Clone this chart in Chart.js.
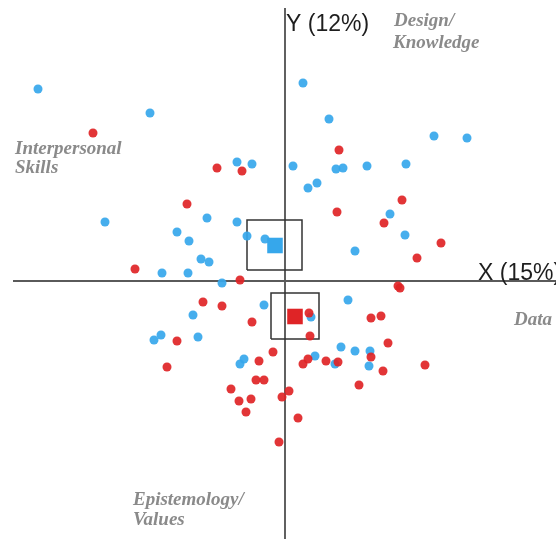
<!DOCTYPE html>
<html>
<head>
<meta charset="utf-8">
<script src="https://cdn.jsdelivr.net/npm/chart.js@4/dist/chart.umd.min.js"></script>
<style>
  html, body { margin: 0; padding: 0; background: #fff; }
  #c { display: block; }
</style>
</head>
<body>
<canvas id="c" width="556" height="539"></canvas>
<script>
// ---- Data ----
const blueX = [-24.7,-13.5,-4.8,-3.3,-18.0,-7.8,-4.8,-10.8,-9.6,-3.8,-2.0,-8.4,-7.6,-12.3,-9.7,-6.3,-2.1,-9.2,-13.1,-12.4,-8.7,-4.5,-4.1,6.3,2.6,5.6,7.0,8.5,8.4,3.0,5.0,1.8,4.4,14.9,18.2,0.8,5.1,5.8,8.2,12.1,2.3,3.2,10.5,12.0,7.0];
const blueY = [19.2,16.8,11.9,11.7,5.9,6.3,5.9,4.9,4.0,4.5,4.2,2.2,1.9,0.8,0.8,-0.2,-2.4,-3.4,-5.9,-5.4,-5.6,-8.3,-7.8,-1.9,-3.6,-6.6,-7.0,-7.0,-8.5,-7.5,-8.3,19.8,16.2,14.5,14.3,11.5,11.2,11.3,11.5,11.7,9.3,9.8,6.7,4.6,3.0];

const redX = [-19.2,-6.8,-4.3,-9.8,-15.0,-4.5,-8.2,-6.3,-3.3,-10.8,-11.8,-1.2,-2.6,-2.9,-2.1,-5.4,-4.6,-3.4,-3.9,-0.3,0.4,1.3,-0.6,11.3,11.5,2.4,2.5,8.6,9.6,10.3,8.6,9.8,14.0,1.8,2.3,4.1,5.3,7.4,5.4,11.7,5.2,9.9,15.6,13.2];
const redY = [14.8,11.3,11.0,7.7,1.2,0.1,-2.1,-2.5,-4.1,-6.0,-8.6,-7.1,-8.0,-9.9,-9.9,-10.8,-12.0,-11.8,-13.1,-11.6,-11.0,-13.7,-16.1,-0.5,-0.7,-3.2,-5.5,-3.7,-3.5,-6.2,-7.6,-9.0,-8.4,-8.3,-7.8,-8.0,-8.1,-10.4,13.1,8.1,6.9,5.8,3.8,2.3];

const blueMean = [-1.0, 3.55];
const redMean = [1.0, -3.55];
// boxes around the means: [xMin, xMax, yMin, yMax]
const blueBox = [-3.8, 1.7, 1.1, 6.1];
const redBox = [-1.4, 3.4, -5.8, -1.2];

const axisLabels = ['X (15%)', 'Y (12%)'];
const quadrantLabels = [['Design/', 'Knowledge'], ['Interpersonal', 'Skills'], ['Epistemology/', 'Values'], ['Data']];

// ---- Helpers ----
const pts = (xs, ys) => xs.map((x, i) => ({ x: x, y: ys[i] }));
const boxPts = b => [
  { x: b[0], y: b[2] }, { x: b[1], y: b[2] }, { x: b[1], y: b[3] }, { x: b[0], y: b[3] }, { x: b[0], y: b[2] }
];

const BLUE = 'rgba(54,167,235,0.92)';
const RED = 'rgba(223,36,38,0.92)';

const textPlugin = {
  id: 'texts',
  afterDraw(chart) {
    const ctx = chart.ctx;
    ctx.save();
    ctx.textBaseline = 'alphabetic';
    ctx.textAlign = 'left';
    ctx.fillStyle = '#1e1e1e';
    ctx.font = '23px "Liberation Sans", Arial, sans-serif';
    ctx.fillText(axisLabels[1], 286, 31);
    ctx.fillText(axisLabels[0], 478, 280);

    ctx.fillStyle = '#8a8a8a';
    ctx.font = 'italic bold 19px "Liberation Serif", "Times New Roman", serif';
    ctx.fillText(quadrantLabels[0][0], 394, 26);
    ctx.fillText(quadrantLabels[0][1], 393, 48);
    ctx.fillText(quadrantLabels[1][0], 15, 154);
    ctx.fillText(quadrantLabels[1][1], 15, 173);
    ctx.fillText(quadrantLabels[2][0], 133, 505);
    ctx.fillText(quadrantLabels[2][1], 133, 525);
    ctx.fillText(quadrantLabels[3][0], 514, 325);
    ctx.restore();
  }
};

new Chart(document.getElementById('c'), {
  type: 'scatter',
  data: {
    datasets: [
      { label: 'x-axis', data: [{ x: -27.2, y: 0 }, { x: 27.1, y: 0 }], showLine: true, borderColor: '#5a5a5a', borderWidth: 1.8, pointRadius: 0, order: 10 },
      { label: 'y-axis', data: [{ x: 0, y: 27.3 }, { x: 0, y: -25.8 }], showLine: true, borderColor: '#3a3a3a', borderWidth: 1.6, pointRadius: 0, order: 10 },
      { label: 'blue box', data: boxPts(blueBox), showLine: true, borderColor: '#333', borderWidth: 1.5, pointRadius: 0, order: 6 },
      { label: 'red box', data: boxPts(redBox), showLine: true, borderColor: '#333', borderWidth: 1.5, pointRadius: 0, order: 6 },
      { label: 'blue', data: pts(blueX, blueY), backgroundColor: BLUE, borderWidth: 0, pointRadius: 4.5, order: 4 },
      { label: 'red', data: pts(redX, redY), backgroundColor: RED, borderWidth: 0, pointRadius: 4.5, order: 3 },
      { label: 'blue mean', data: [{ x: blueMean[0], y: blueMean[1] }], pointStyle: 'rect', backgroundColor: 'rgb(54,167,235)', borderWidth: 0, pointRadius: 11, order: 1 },
      { label: 'red mean', data: [{ x: redMean[0], y: redMean[1] }], pointStyle: 'rect', backgroundColor: 'rgb(223,36,38)', borderWidth: 0, pointRadius: 11, order: 1 }
    ]
  },
  options: {
    responsive: false,
    devicePixelRatio: 1,
    animation: false,
    layout: { padding: 0, autoPadding: false },
    plugins: { legend: { display: false }, tooltip: { enabled: false } },
    scales: {
      x: { type: 'linear', min: -28.5, max: 27.1, display: false },
      y: { type: 'linear', min: -25.8, max: 28.1, display: false }
    }
  },
  plugins: [textPlugin]
});
</script>
</body>
</html>
